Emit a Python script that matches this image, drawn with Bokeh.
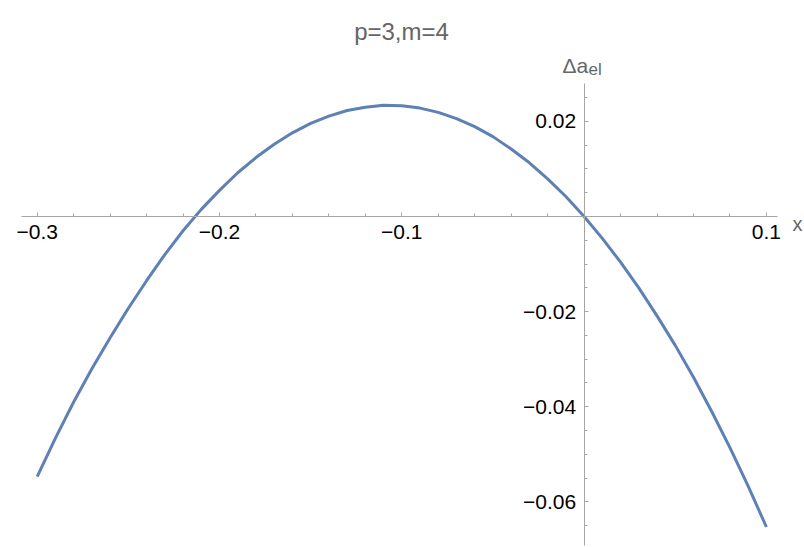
from bokeh.plotting import figure
from bokeh.models import LinearAxis, FixedTicker, Range1d, Label, ColumnDataSource
from bokeh.embed import file_html
from bokeh.resources import INLINE

# ---- data ----
x_vals = [-0.30, -0.29, -0.28, -0.27, -0.26, -0.25, -0.24, -0.23, -0.22, -0.21,
          -0.20, -0.19, -0.18, -0.17, -0.16, -0.15, -0.14, -0.13, -0.12, -0.11,
          -0.10, -0.09, -0.08, -0.07, -0.06, -0.05, -0.04, -0.03, -0.02, -0.01,
          0.00, 0.01, 0.02, 0.03, 0.04, 0.05, 0.06, 0.07, 0.08, 0.09, 0.10]
y_vals = [-0.0547, -0.0466, -0.0390, -0.0320, -0.0255, -0.0193, -0.0135, -0.0080, -0.0030, 0.0015,
          0.0055, 0.0092, 0.0124, 0.0152, 0.0176, 0.0196, 0.0211, 0.0223, 0.0230, 0.0234,
          0.0233, 0.0228, 0.0219, 0.0206, 0.0189, 0.0168, 0.0142, 0.0113, 0.0079, 0.0042,
          0.0000, -0.0046, -0.0096, -0.0150, -0.0209, -0.0271, -0.0338, -0.0410, -0.0486, -0.0567,
          -0.0653]

x_ticks = [-0.3, -0.2, -0.1, 0.1]
x_tick_labels = ["\u22120.3", "\u22120.2", "\u22120.1", "0.1"]
x_minor_ticks = [-0.30, -0.28, -0.26, -0.24, -0.22, -0.20, -0.18, -0.16, -0.14, -0.12, -0.10,
                 -0.08, -0.06, -0.04, -0.02, 0.02, 0.04, 0.06, 0.08, 0.10]
y_ticks = [-0.06, -0.04, -0.02, 0.02]
y_tick_labels = ["\u22120.06", "\u22120.04", "\u22120.02", "0.02"]
y_minor_ticks = [-0.065, -0.06, -0.055, -0.05, -0.045, -0.04, -0.035, -0.03, -0.025, -0.02,
                 -0.015, -0.01, -0.005, 0.005, 0.01, 0.015, 0.02, 0.025]

title_text = "p=3,m=4"
y_label_main = "\u0394a"
y_label_sub = "el"
x_label = "x"

AXIS_COLOR = "#a6a6a6"
LINE_COLOR = "#5E81B5"
LABEL_GRAY = "#666666"
FONT = "Liberation Sans"
W, H = 804, 547

source = ColumnDataSource(data=dict(x=x_vals, y=y_vals))

p = figure(width=W, height=H,
           x_range=Range1d(-0.32013, 0.1209), y_range=Range1d(-0.06961, 0.04543),
           output_backend="svg", toolbar_location=None,
           x_axis_type=None, y_axis_type=None, min_border=0,
           outline_line_color=None, background_fill_color="white")

axis_style = dict(axis_line_color=AXIS_COLOR, axis_line_width=1,
                  major_tick_line_color=AXIS_COLOR, minor_tick_line_color=AXIS_COLOR,
                  major_tick_in=4, major_tick_out=0, minor_tick_in=3, minor_tick_out=0,
                  major_label_text_font=FONT, major_label_text_font_size="21px",
                  major_label_text_color="black")

xaxis = LinearAxis(fixed_location=0,
                   ticker=FixedTicker(ticks=x_ticks, minor_ticks=x_minor_ticks),
                   major_label_overrides=dict(zip(x_ticks, x_tick_labels)),
                   bounds=(-0.3086, 0.106), major_label_standoff=8, **axis_style)
p.add_layout(xaxis, "below")

yaxis = LinearAxis(fixed_location=0,
                   ticker=FixedTicker(ticks=y_ticks, minor_ticks=y_minor_ticks),
                   major_label_overrides=dict(zip(y_ticks, y_tick_labels)),
                   bounds=(-0.0692, 0.028), major_label_standoff=8, **axis_style)
p.add_layout(yaxis, "left")

p.line("x", "y", source=source, line_color=LINE_COLOR, line_width=3, line_join="round")

p.add_layout(Label(x=401, y=H - 31, x_units="screen", y_units="screen", text=title_text,
                   text_font=FONT, text_font_size="24px", text_color=LABEL_GRAY,
                   text_align="center", text_baseline="alphabetic"))
p.add_layout(Label(x=562, y=H - 65, x_units="screen", y_units="screen", text=y_label_main,
                   text_font=FONT, text_font_size="21px", text_color=LABEL_GRAY,
                   text_align="left", text_baseline="alphabetic"))
p.add_layout(Label(x=588, y=H - 69, x_units="screen", y_units="screen", text=y_label_sub,
                   text_font=FONT, text_font_size="17px", text_color=LABEL_GRAY,
                   text_align="left", text_baseline="alphabetic"))
p.add_layout(Label(x=792, y=H - 223, x_units="screen", y_units="screen", text=x_label,
                   text_font=FONT, text_font_size="20px", text_color=LABEL_GRAY,
                   text_align="left", text_baseline="alphabetic"))

open("out.html", "w").write(file_html(p, INLINE))
